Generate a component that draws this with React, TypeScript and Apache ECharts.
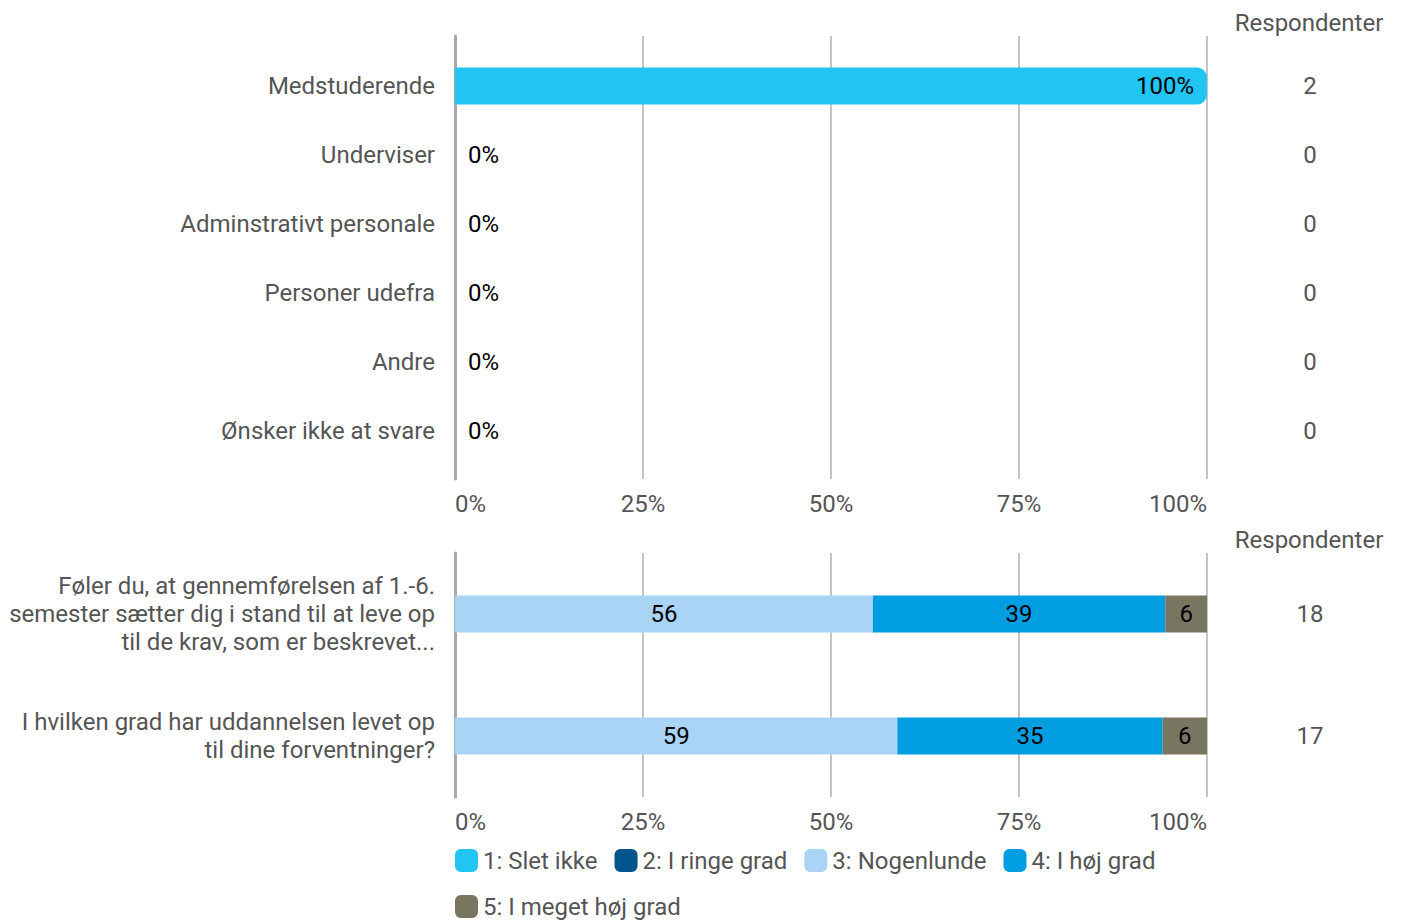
import React, { useEffect, useRef } from "react";
import * as echarts from "echarts";

const topCategories = [
  "Medstuderende",
  "Underviser",
  "Adminstrativt personale",
  "Personer udefra",
  "Andre",
  "Ønsker ikke at svare",
];
const topValues = [100, 0, 0, 0, 0, 0];
const topRespondents = ["2", "0", "0", "0", "0", "0"];

const bottomCategories = [
  "Føler du, at gennemførelsen af 1.-6.\nsemester sætter dig i stand til at leve op\ntil de krav, som er beskrevet...",
  "I hvilken grad har uddannelsen levet op\ntil dine forventninger?",
];
const bottomRespondents = ["18", "17"];
const seriesNames = [
  "1: Slet ikke",
  "2: I ringe grad",
  "3: Nogenlunde",
  "4: I høj grad",
  "5: I meget høj grad",
];
const seriesColors = ["#21c5f3", "#00558c", "#a9d4f5", "#009ee0", "#787560"];
const seriesValues = [
  [0, 0],
  [0, 0],
  [55.56, 58.82],
  [38.89, 35.29],
  [5.56, 5.88],
];
const tickLabels = ["0%", "25%", "50%", "75%", "100%"];

const FONT = "Roboto";
const FS = 24;
const GREY = "#555555";
const SPLIT = "#c4c4c4";
const AXIS = "#a8a8a8";

export default function App() {
  const ref = useRef<HTMLDivElement>(null);
  useEffect(() => {
    const chart = echarts.init(ref.current!, null, { renderer: "svg" });
    const xAxisBase = (gridIndex: number, show: boolean) => ({
      type: "value",
      gridIndex,
      min: 0,
      max: 100,
      interval: 25,
      show,
      axisLine: { show: false },
      axisTick: { show: false },
      splitLine: { show, lineStyle: { color: SPLIT, width: 2 } },
      axisLabel: {
        show,
        margin: 13,
        fontSize: FS,
        fontFamily: FONT,
        color: GREY,
        alignMinLabel: "left",
        alignMaxLabel: "right",
        formatter: (v: number) => tickLabels[Math.round(v / 25)],
      },
    });
    const option: any = {
      animation: false,
      textStyle: { fontFamily: FONT },
      grid: [
        { left: 455, width: 752, top: 36, height: 443 },
        { left: 455, width: 752, top: 51.5, height: 414 },
        { left: 455, width: 752, top: 553, height: 244 },
      ],
      xAxis: [xAxisBase(0, true), xAxisBase(1, false), xAxisBase(2, true)],
      yAxis: [
        {
          type: "category",
          gridIndex: 0,
          data: [""],
          axisLine: { show: true, lineStyle: { color: AXIS, width: 3 } },
          axisTick: { show: false },
          axisLabel: { show: false },
        },
        {
          type: "category",
          gridIndex: 1,
          inverse: true,
          data: topCategories,
          axisLine: { show: false },
          axisTick: { show: false },
          axisLabel: { margin: 20, fontSize: FS, fontFamily: FONT, color: GREY },
        },
        {
          type: "category",
          gridIndex: 1,
          inverse: true,
          position: "right",
          data: topCategories,
          axisLine: { show: false },
          axisTick: { show: false },
          axisLabel: {
            margin: 103,
            align: "center",
            fontSize: FS,
            fontFamily: FONT,
            color: GREY,
            formatter: (_v: string, i: number) => topRespondents[i],
          },
        },
        {
          type: "category",
          gridIndex: 2,
          inverse: true,
          data: bottomCategories,
          axisLine: { show: true, lineStyle: { color: AXIS, width: 3 } },
          axisTick: { show: false },
          axisLabel: {
            margin: 20,
            fontSize: FS,
            lineHeight: 28,
            fontFamily: FONT,
            color: GREY,
            align: "right",
          },
        },
        {
          type: "category",
          gridIndex: 2,
          inverse: true,
          position: "right",
          data: bottomCategories,
          axisLine: { show: false },
          axisTick: { show: false },
          axisLabel: {
            margin: 103,
            align: "center",
            fontSize: FS,
            fontFamily: FONT,
            color: GREY,
            formatter: (_v: string, i: number) => bottomRespondents[i],
          },
        },
      ],
      legend: {
        data: seriesNames,
        left: 455,
        top: 846,
        width: 740,
        padding: 0,
        itemWidth: 23,
        itemHeight: 23,
        itemGap: 17,
        icon: "roundRect",
        textStyle: { fontSize: FS, fontFamily: FONT, color: GREY, lineHeight: 29 },
      },
      graphic: [
        {
          type: "text",
          x: 1309,
          y: 23,
          style: {
            text: "Respondenter",
            fontSize: FS,
            fontFamily: FONT,
            fill: GREY,
            align: "center",
            verticalAlign: "middle",
          },
        },
        {
          type: "text",
          x: 1309,
          y: 540,
          style: {
            text: "Respondenter",
            fontSize: FS,
            fontFamily: FONT,
            fill: GREY,
            align: "center",
            verticalAlign: "middle",
          },
        },
      ],
      series: [
        {
          type: "bar",
          name: "Andel",
          xAxisIndex: 1,
          yAxisIndex: 1,
          barWidth: 37,
          data: topValues.map((v) => ({
            value: v,
            itemStyle: { color: seriesColors[0], borderRadius: [0, 10, 10, 0] },
            label: {
              show: true,
              position: v >= 50 ? "insideRight" : "right",
              distance: 13,
              color: "#000",
              fontSize: FS,
              fontFamily: FONT,
              formatter: (p: any) => `${p.value}%`,
            },
          })),
        },
        ...seriesNames.map((name, si) => ({
          type: "bar",
          name,
          stack: "total",
          xAxisIndex: 2,
          yAxisIndex: 3,
          barWidth: 37,
          itemStyle: { color: seriesColors[si] },
          label: {
            show: true,
            position: "inside",
            color: "#000",
            fontSize: FS,
            fontFamily: FONT,
            formatter: (p: any) => (p.value > 0 ? `${Math.round(p.value)}` : ""),
          },
          data: seriesValues[si],
        })),
      ],
    };
    chart.setOption(option);
    return () => chart.dispose();
  }, []);
  return (
    <div
      ref={ref}
      style={{ position: "fixed", left: 0, top: 0, width: 1401, height: 924, background: "#fff" }}
    />
  );
}
